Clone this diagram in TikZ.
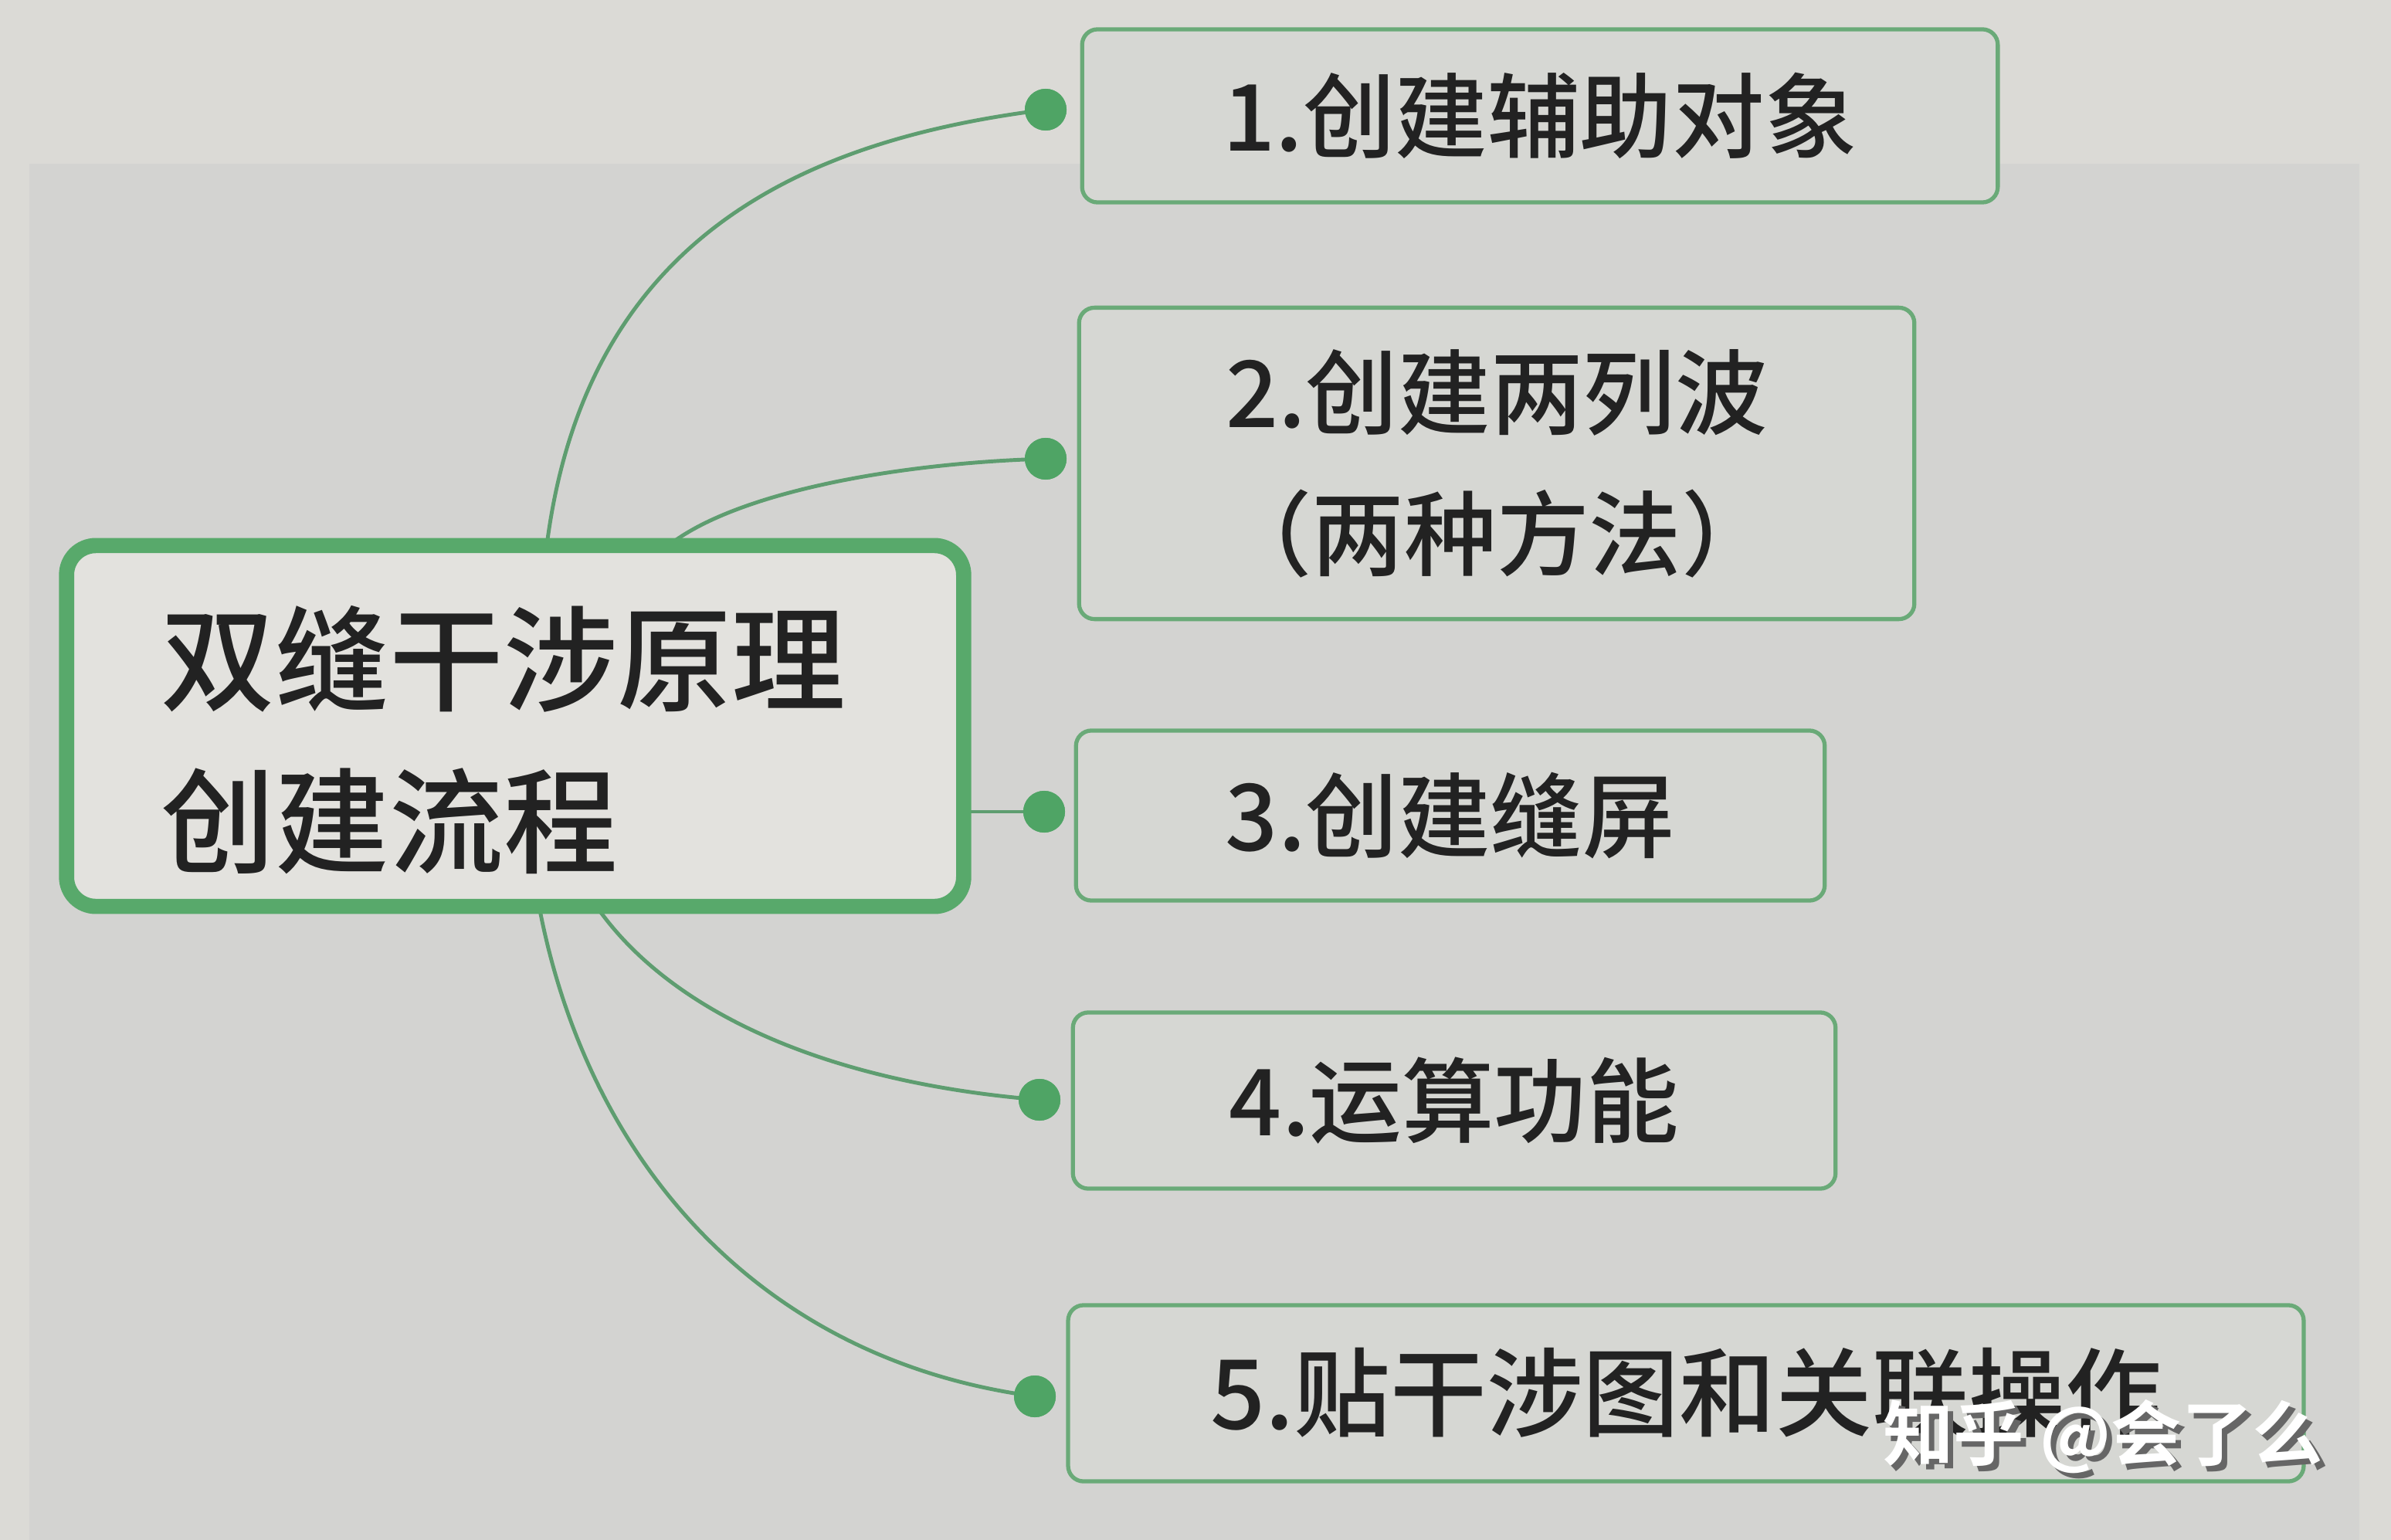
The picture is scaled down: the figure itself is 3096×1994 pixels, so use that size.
\documentclass[tikz,border=0pt]{standalone}
\usepackage{fontspec}
\newfontfamily\cjk{Noto Sans CJK SC}[UprightFont={* Medium},BoldFont={* Bold}]
\definecolor{paper}{HTML}{DBDAD6}
\definecolor{band}{HTML}{D3D3D1}
\definecolor{mainfill}{HTML}{E3E2DE}
\definecolor{childfill}{HTML}{D6D7D3}
\definecolor{gthick}{HTML}{58A96B}
\definecolor{gthin}{HTML}{6AAA78}
\definecolor{gline}{HTML}{5E9D70}
\definecolor{gdot}{HTML}{4FA465}
\definecolor{ink}{HTML}{222222}
\begin{document}
\begin{tikzpicture}[x=0.01cm,y=-0.01cm,
  mainbox/.style={draw=gthick,line width=5.6pt,fill=mainfill,rounded corners=0.38cm,
    minimum width=11.61cm,minimum height=4.67cm,inner sep=0pt},
  maintext/.style={font=\cjk\fontsize{42}{59.5}\selectfont,text=ink,align=left,inner sep=0pt},
  childbox/.style={draw=gthin,line width=1.5pt,fill=childfill,rounded corners=0.2cm,
    inner sep=0pt,text=ink,align=center,font=\cjk\fontsize{34}{52}\selectfont},
  conn/.style={draw=gline,line width=1.4pt},
  dotnode/.style={circle,fill=gdot,minimum size=0.54cm,inner sep=0pt},
  wm/.style={font=\cjk\bfseries\fontsize{26}{26}\selectfont,inner sep=0pt}]
\fill[paper] (0,0) rectangle (3096,1994);
\useasboundingbox (0,0) rectangle (3096,1994);
\fill[band] (38,212) rectangle (3055,1994);

% child boxes
\node[childbox,minimum width=11.85cm,minimum height=2.24cm] (b1) at (1994,150) {1.创建辅助对象};
\node[childbox,minimum width=10.81cm,minimum height=4.03cm] (b2) at (1938,600) {2.创建两列波\\（两种方法）};
\node[childbox,minimum width=9.69cm,minimum height=2.20cm] (b3) at (1878,1056) {3.创建缝屏};
\node[childbox,minimum width=9.87cm,minimum height=2.28cm] (b4) at (1883,1425) {4.运算功能};
\node[childbox,minimum width=15.99cm,minimum height=2.28cm,font=\cjk\fontsize{35.5}{40}\selectfont] (b5) at (2183,1804) {5.贴干涉图和关联操作};

% dots
\node[dotnode] (d1) at (1354,142) {};
\node[dotnode] (d2) at (1354,594) {};
\node[dotnode] (d3) at (1352,1051) {};
\node[dotnode] (d4) at (1346,1424) {};
\node[dotnode] (d5) at (1340,1808) {};

% connector start points on the central box
\coordinate (s1) at (708,706);
\coordinate (s2) at (866,706);
\coordinate (s3) at (1248,1051);
\coordinate (s4) at (772,1173);
\coordinate (s5) at (698,1173);

\draw[conn] (s1) .. controls (760,300) and (1050,180) .. (d1.center);
\draw[conn] (s2) .. controls (950,640) and (1150,600) .. (d2.center);
\draw[conn] (s3) -- (d3.center);
\draw[conn] (s4) .. controls (860,1300) and (1050,1400) .. (d4.center);
\draw[conn] (s5) .. controls (760,1500) and (980,1760) .. (d5.center);
\fill[gdot] (d1) circle (0.27cm);
\fill[gdot] (d2) circle (0.27cm);
\fill[gdot] (d3) circle (0.27cm);
\fill[gdot] (d4) circle (0.27cm);
\fill[gdot] (d5) circle (0.27cm);

% central node
\node[mainbox] (c) at (667,940) {};
\node[maintext] (ctext) at (652,958) {双缝干涉原理\\创建流程};

% watermark
\node[wm,text=black!60] (wms) at (2730,1867) {知乎 @会了么};
\node[wm,text=white] (wmt) at (2723,1860) {知乎 @会了么};
\end{tikzpicture}
\end{document}
